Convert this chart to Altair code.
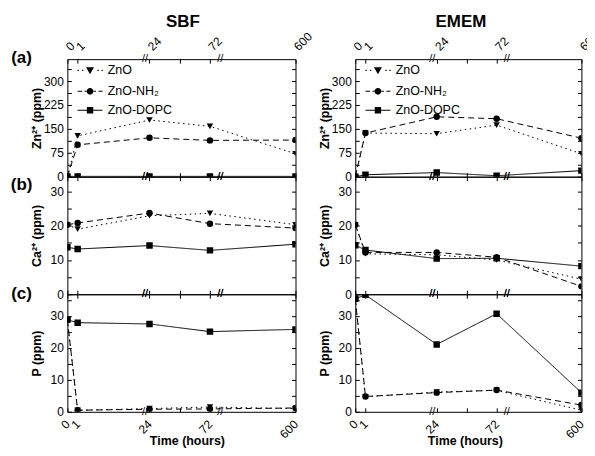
import altair as alt
import pandas as pd

# ---------------- data ----------------
times = [0, 1, 24, 72, 600]
time_labels = ["0", "1", "24", "72", "600"]
axis_pos = [0, 4.5, 36, 62.5, 100]   # where each sampling time sits on the broken axis
minor_pos = [49.3]                   # unlabelled tick (48 h)
break_pos = [34, 67]                 # axis-break marks "//"
series = ["ZnO", "ZnO-NH₂", "ZnO-DOPC"]

# SBF
sbf_zn_zno = [0, 128, 178, 158, 72]
sbf_zn_nh2 = [0, 100, 122, 114, 115]
sbf_zn_dopc = [1, 1, 1, 1, 1]
sbf_ca_zno = [20.3, 19.0, 22.9, 23.6, 20.3]
sbf_ca_nh2 = [20.3, 20.8, 23.7, 20.6, 19.3]
sbf_ca_dopc = [13.7, 13.2, 14.2, 12.8, 14.6]
sbf_p_zno = [28.8, 0.5, 1.0, 1.5, 1.0]
sbf_p_nh2 = [28.8, 0.5, 0.8, 0.9, 1.2]
sbf_p_dopc = [28.8, 27.9, 27.5, 25.1, 25.8]
# EMEM
emem_zn_zno = [0, 137, 135, 162, 72]
emem_zn_nh2 = [0, 137, 188, 182, 121]
emem_zn_dopc = [0, 6, 13, 3, 19]
emem_ca_zno = [20.3, 11.8, 11.5, 10.0, 4.4]
emem_ca_nh2 = [20.3, 12.2, 12.2, 10.8, 2.3]
emem_ca_dopc = [14.3, 12.9, 10.4, 10.5, 8.2]
emem_p_zno = [35.4, 4.7, 6.2, 6.7, 0.5]
emem_p_nh2 = [35.4, 4.8, 6.0, 6.8, 2.1]
emem_p_dopc = [35.4, 36.6, 21.1, 30.7, 6.0]

media = ["SBF", "EMEM"]
panel_tags = ["(a)", "(b)", "(c)"]
y_titles = ["Zn²⁺ (ppm)", "Ca²⁺ (ppm)", "P (ppm)"]
y_domains = [[0, 369], [0, 34.3], [0, 36.8]]
y_ticks = [[0, 37.5, 75, 112.5, 150, 187.5, 225, 262.5, 300, 337.5],
           [0, 5, 10, 15, 20, 25, 30],
           [0, 5, 10, 15, 20, 25, 30, 35]]
y_label_step = [75, 10, 10]

values = {
    ("SBF", 0): [sbf_zn_zno, sbf_zn_nh2, sbf_zn_dopc],
    ("SBF", 1): [sbf_ca_zno, sbf_ca_nh2, sbf_ca_dopc],
    ("SBF", 2): [sbf_p_zno, sbf_p_nh2, sbf_p_dopc],
    ("EMEM", 0): [emem_zn_zno, emem_zn_nh2, emem_zn_dopc],
    ("EMEM", 1): [emem_ca_zno, emem_ca_nh2, emem_ca_dopc],
    ("EMEM", 2): [emem_p_zno, emem_p_nh2, emem_p_dopc],
}

# ---------------- style ----------------
FONT = "Liberation Sans"
widths = [229, 227]
H = 118
TS = 4  # tick length (drawn inward by offsetting the axis into the plot)
dash_range = [[1.5, 3.5], [6, 4], [1, 0]]
shape_range = ["triangle-down", "circle", "square"]
title_x = [116, 106]
time_title_dx = [5.5, -3.5]

# legend symbols: line + marker drawn as one filled path (5 px per path unit at size 100)
U = 5.0
def seg(a, b, t=1.1):
    y0, y1 = -t / 2 / U, t / 2 / U
    return f"M{a/U:.2f} {y0:.2f}L{b/U:.2f} {y0:.2f}L{b/U:.2f} {y1:.2f}L{a/U:.2f} {y1:.2f}Z"
MC = 7.5
tri = f"M{(MC-4)/U:.2f} {-3/U:.2f}L{(MC+4)/U:.2f} {-3/U:.2f}L{MC/U:.2f} {4/U:.2f}Z"
rr = 3.4
circ = (f"M{(MC-rr)/U:.2f} 0A{rr/U:.2f} {rr/U:.2f} 0 1 0 {(MC+rr)/U:.2f} 0"
        f"A{rr/U:.2f} {rr/U:.2f} 0 1 0 {(MC-rr)/U:.2f} 0Z")
hh = 3.2
sq = (f"M{(MC-hh)/U:.2f} {-hh/U:.2f}L{(MC+hh)/U:.2f} {-hh/U:.2f}"
      f"L{(MC+hh)/U:.2f} {hh/U:.2f}L{(MC-hh)/U:.2f} {hh/U:.2f}Z")
legend_paths = [
    "".join(seg(x, x + 1.3, 1.3) for x in [-5, -0.5, 15, 19]) + tri,
    "".join(seg(a, b) for a, b in [(-5, -0.5), (2, 4), (11, 13.5), (16, 20)]) + circ,
    seg(-5, 20) + sq,
]

x_vals = sorted(axis_pos + minor_pos)
x_expr = " : ".join(f"datum.value == {p} ? '{l}'" for p, l in zip(axis_pos, time_labels)) + " : ''"
tag_dy = [-1, 8, 0]


def make_df(medium, r):
    rows = []
    for s, vals in zip(series, values[(medium, r)]):
        for t, p, v in zip(times, axis_pos, vals):
            rows.append({"series": s, "time": t, "pos": p, "value": v})
    return pd.DataFrame(rows)


def panel(r, c):
    medium = media[c]
    W = widths[c]
    df = make_df(medium, r)
    xs = alt.Scale(domain=[0, 100], nice=False, zero=False)
    ys = alt.Scale(domain=y_domains[r], nice=False, zero=False)
    y_expr = f"datum.value % {y_label_step[r]} == 0 ? datum.label : ''"

    bottom_kw = dict(title=None)
    if r == 2:
        bottom_kw = dict(title="Time (hours)", titleX=W / 2 + time_title_dx[c], titleY=27,
                         titleAlign="center", titleBaseline="top", titleAngle=0)
    ax_bottom = alt.Axis(orient="bottom", values=x_vals, labelExpr=x_expr, labels=(r == 2),
                         labelAngle=315, labelAlign="right", labelBaseline="middle",
                         labelOverlap=False, labelFlush=False, labelPadding=10, tickSize=TS,
                         offset=-TS, **bottom_kw)
    ax_top = alt.Axis(orient="top", values=x_vals, labelExpr=x_expr, labels=(r == 0),
                      labelAngle=315, labelAlign="left", labelBaseline="middle",
                      labelOverlap=False, labelFlush=False, labelPadding=11, tickSize=TS,
                      offset=-TS, title=None)
    ax_left = alt.Axis(orient="left", values=y_ticks[r], labelExpr=y_expr, tickSize=TS,
                       labelPadding=4, labelOverlap=False, labelFlush=False, offset=-TS,
                       title=y_titles[r], titleX=-30.5, titleY=H / 2, titleAngle=270,
                       titleAlign="center", titleBaseline="alphabetic")
    ax_right = alt.Axis(orient="right", values=y_ticks[r], labels=False, tickSize=TS,
                        offset=-TS, title=None)

    lines = alt.Chart(df).mark_line(color="black", strokeWidth=1, clip=True).encode(
        x=alt.X("pos:Q", scale=xs, axis=ax_bottom),
        y=alt.Y("value:Q", scale=ys, axis=ax_left),
        strokeDash=alt.StrokeDash("series:N", scale=alt.Scale(domain=series, range=dash_range), legend=None),
    )
    points = alt.Chart(df).mark_point(filled=True, color="black", size=42, opacity=1, clip=True).encode(
        x=alt.X("pos:Q", axis=ax_top),
        y=alt.Y("value:Q", axis=ax_right),
        shape=alt.Shape("series:N", scale=alt.Scale(domain=series, range=shape_range), legend=None),
    )
    bdf = pd.DataFrame({"pos": break_pos})
    brk_top = alt.Chart(bdf).mark_text(text="//", fontSize=11, font=FONT, color="black").encode(
        x=alt.X("pos:Q", axis=None), y=alt.value(0))
    brk_bot = alt.Chart(bdf).mark_text(text="//", fontSize=11, font=FONT, color="black").encode(
        x=alt.X("pos:Q", axis=None), y=alt.value(H))
    layers = [lines, points, brk_top, brk_bot]

    if r == 0:
        leg = alt.Chart(df).mark_point(filled=True, color="black", size=100, opacity=1).encode(
            shape=alt.Shape("series:N", scale=alt.Scale(domain=series, range=legend_paths),
                            legend=alt.Legend(orient="none", legendX=9, legendY=5, title=None,
                                              symbolSize=100, symbolFillColor="black",
                                              labelOffset=19, rowPadding=6, padding=0,
                                              labelFont=FONT, labelFontSize=12.5, labelColor="black"))
        ).transform_filter("datum.value < -1000")
        layers.append(leg)
        ttl = alt.Chart(pd.DataFrame({"m": [medium]})).mark_text(
            font=FONT, fontSize=17, fontWeight="bold", align="center", baseline="middle", color="black"
        ).encode(x=alt.value(title_x[c]), y=alt.value(-37), text="m:N")
        layers.append(ttl)
    if c == 0:
        tag = alt.Chart(pd.DataFrame({"tag": [panel_tags[r]]})).mark_text(
            font=FONT, fontSize=17, fontWeight="bold", align="center", baseline="middle", color="black"
        ).encode(x=alt.value(-46), y=alt.value(tag_dy[r]), text="tag:N")
        layers.append(tag)

    ch = alt.layer(*layers).resolve_scale(shape="independent").resolve_axis(x="independent", y="independent")
    return ch.properties(width=W, height=H)


panels = [panel(r, c) for r in range(3) for c in range(2)]

chart = alt.ConcatChart(
    concat=panels, columns=2, spacing={"row": 0, "column": 60}, bounds="flush",
    padding={"left": 1.6, "top": 3.5, "right": -13.4, "bottom": 0}, background="white",
).resolve_scale(shape="independent", strokeDash="independent").configure_view(
    stroke="black", strokeWidth=1
).configure_axis(
    labelFont=FONT, labelFontSize=12, labelColor="black", titleFont=FONT, titleFontSize=12.5,
    titleFontWeight="bold", titleColor="black", tickColor="black", tickWidth=1, domain=False, grid=False
)

chart.save("out.html", embed_options={"renderer": "svg", "actions": False})
